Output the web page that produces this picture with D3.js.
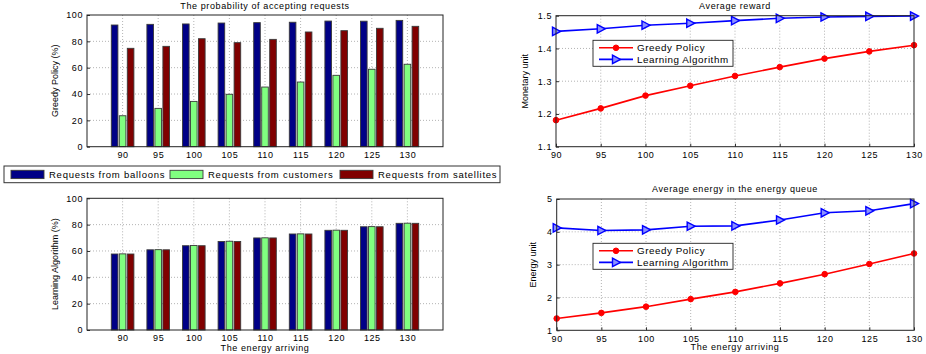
<!DOCTYPE html>
<html>
<head>
<meta charset="utf-8">
<script src="https://cdn.jsdelivr.net/npm/d3@7"></script>
<style>
  body { margin: 0; background: #fff; }
  svg { display: block; font-family: "Liberation Sans", Arial, sans-serif; }
  .tick text { font-size: 9px; letter-spacing: 0.6px; fill: #000; }
</style>
</head>
<body>
<svg id="fig" width="926" height="354"></svg>
<script>
// Data
const energy = [90, 95, 100, 105, 110, 115, 120, 125, 130];

const greedyBalloons = [92.4, 92.9, 93.2, 93.9, 94.2, 94.5, 95.4, 95.3, 95.9];
const greedyCustomers = [23.5, 29.1, 34.4, 39.8, 45.3, 49.1, 54.2, 58.8, 62.6];
const greedySatellites = [74.7, 76.2, 82.0, 79.0, 81.5, 87.1, 88.1, 89.9, 91.4];

const learningBalloons = [57.7, 60.9, 64.0, 67.2, 69.9, 72.9, 75.7, 78.4, 81.0];
const learningCustomers = [57.8, 61.0, 64.2, 67.4, 70.0, 73.0, 75.8, 78.5, 81.1];
const learningSatellites = [57.7, 60.9, 64.0, 67.2, 69.9, 72.9, 75.7, 78.4, 81.0];

const rewardGreedy = [1.181, 1.217, 1.256, 1.286, 1.316, 1.343, 1.369, 1.391, 1.410];
const rewardLearning = [1.452, 1.460, 1.471, 1.477, 1.485, 1.492, 1.496, 1.498, 1.499];

const queueGreedy = [1.36, 1.53, 1.72, 1.95, 2.17, 2.43, 2.71, 3.02, 3.34];
const queueLearning = [4.12, 4.04, 4.06, 4.17, 4.18, 4.36, 4.58, 4.64, 4.86];

const barSeries = ["Requests from balloons", "Requests from customers", "Requests from satellites"];
const lineSeries = ["Greedy Policy", "Learning Algorithm"];

const barColors = ["#000086", "#80ff80", "#800000"];
const lineColors = ["#ff0000", "#0000ff"];

const svg = d3.select("#fig");

// grid, box and axes for one panel
function drawFrame(g, x, y, xTicks, yTicks, yFormat) {
  const [x0, x1] = x.range();
  const [y0, y1] = y.range();

  g.append("g")
    .selectAll("line.vg")
    .data(xTicks.filter(d => x(d) > x0 + 1 && x(d) < x1 - 1))
    .enter()
    .append("line")
    .attr("x1", d => x(d)).attr("x2", d => x(d))
    .attr("y1", y1).attr("y2", y0)
    .attr("stroke", "#a0a0a0")
    .attr("stroke-width", 0.8)
    .attr("stroke-dasharray", "1,2");

  g.append("g")
    .selectAll("line.hg")
    .data(yTicks.filter(d => y(d) > y1 + 1 && y(d) < y0 - 1))
    .enter()
    .append("line")
    .attr("x1", x0).attr("x2", x1)
    .attr("y1", d => y(d)).attr("y2", d => y(d))
    .attr("stroke", "#a0a0a0")
    .attr("stroke-width", 0.8)
    .attr("stroke-dasharray", "1,2");

  const xAxis = g.append("g")
    .attr("transform", `translate(0,${y0})`)
    .call(d3.axisBottom(x).tickValues(xTicks).tickSizeInner(-3).tickSizeOuter(0).tickPadding(5));
  const yAxis = g.append("g")
    .attr("transform", `translate(${x0},0)`)
    .call(d3.axisLeft(y).tickValues(yTicks).tickFormat(yFormat).tickSizeInner(-3).tickSizeOuter(0).tickPadding(4));
  [xAxis, yAxis].forEach(a => {
    a.select(".domain").remove();
    a.selectAll(".tick line").attr("stroke", "#333");
  });
  return { xAxis, yAxis };
}

function drawBox(g, x, y) {
  const [x0, x1] = x.range();
  const [y0, y1] = y.range();
  g.append("rect")
    .attr("x", x0).attr("y", y1)
    .attr("width", x1 - x0).attr("height", y0 - y1)
    .attr("fill", "none")
    .attr("stroke", "#222")
    .attr("stroke-width", 1);
}

function barPanel(top, bottom, series, yLabel) {
  const g = svg.append("g");
  const x = d3.scaleLinear().domain([85, 135]).range([87, 443]);
  const y = d3.scaleLinear().domain([0, 100]).range([bottom, top]);
  drawFrame(g, x, y, energy, d3.range(0, 101, 20), d3.format("d"));

  const barW = 6.6;
  const offsets = [-8, 0, 8];
  series.forEach((values, s) => {
    g.append("g")
      .selectAll("rect")
      .data(values)
      .enter()
      .append("rect")
      .attr("x", (d, i) => x(energy[i]) + offsets[s] - barW / 2)
      .attr("y", d => y(d))
      .attr("width", barW)
      .attr("height", d => y(0) - y(d))
      .attr("fill", barColors[s])
      .attr("stroke", "#3a3a3a")
      .attr("stroke-width", 0.9);
  });
  drawBox(g, x, y);

  g.append("text")
    .attr("transform", `translate(58,${(top + bottom) / 2}) rotate(-90)`)
    .attr("text-anchor", "middle")
    .style("font-size", "9px")
    .text(yLabel);
  return { g, x, y };
}

function linePanel(left, top, bottom, yDomain, yTicks, yFormat, series, yLabel, yLabelX, legendTop) {
  const g = svg.append("g");
  const x = d3.scaleLinear().domain([90, 130]).range([left, 914]);
  const y = d3.scaleLinear().domain(yDomain).range([bottom, top]);
  drawFrame(g, x, y, energy, yTicks, yFormat);

  const line = d3.line().x((d, i) => x(energy[i])).y(d => y(d));
  series.forEach((values, s) => {
    g.append("path")
      .datum(values)
      .attr("d", line)
      .attr("fill", "none")
      .attr("stroke", lineColors[s])
      .attr("stroke-width", 1.6);
    const marks = g.append("g")
      .selectAll("g")
      .data(values)
      .enter()
      .append("g")
      .attr("transform", (d, i) => `translate(${x(energy[i])},${y(d)})`);
    drawMarker(marks, s);
  });
  drawBox(g, x, y);

  g.append("text")
    .attr("transform", `translate(${yLabelX},${(top + bottom) / 2}) rotate(-90)`)
    .attr("text-anchor", "middle")
    .style("font-size", "9px")
    .text(yLabel);

  // legend
  const lg = g.append("g").attr("transform", `translate(593,${legendTop})`);
  lg.append("rect")
    .attr("width", 140).attr("height", 26)
    .attr("fill", "#fff")
    .attr("stroke", "#222")
    .attr("stroke-width", 0.9);
  lineSeries.forEach((name, s) => {
    const yy = 7.5 + s * 11.6;
    lg.append("line")
      .attr("x1", 6).attr("x2", 40)
      .attr("y1", yy).attr("y2", yy)
      .attr("stroke", lineColors[s])
      .attr("stroke-width", 1.6);
    drawMarker(lg.append("g").attr("transform", `translate(23,${yy})`), s);
    lg.append("text")
      .attr("x", 44).attr("y", yy + 3.4)
      .style("font-size", "9.8px")
      .style("letter-spacing", "0.55px")
      .text(name);
  });
  return { g, x, y };
}

function drawMarker(sel, s) {
  if (s === 0) {
    sel.append("circle")
      .attr("r", 2.8)
      .attr("fill", lineColors[0])
      .attr("stroke", lineColors[0]);
  } else {
    sel.append("path")
      .attr("d", "M-3.5,-4.2L4.5,0L-3.5,4.2Z")
      .attr("fill", "#8a90ff")
      .attr("stroke", lineColors[1])
      .attr("stroke-width", 1.4);
  }
}

// Left column: bar charts
barPanel(15, 146.7, [greedyBalloons, greedyCustomers, greedySatellites], "Greedy Policy (%)");
barPanel(198.3, 330, [learningBalloons, learningCustomers, learningSatellites], "Learning Algorithm (%)");

const titleStyle = sel => sel.style("font-size", "9px").style("letter-spacing", "0.6px");

svg.append("text")
  .attr("x", 265).attr("y", 9)
  .attr("text-anchor", "middle")
  .call(titleStyle)
  .text("The probability of accepting requests");

svg.append("text")
  .attr("x", 265).attr("y", 350.5)
  .attr("text-anchor", "middle")
  .call(titleStyle)
  .text("The energy arriving");

// Bar legend
const barLegend = svg.append("g").attr("transform", "translate(4,166)");
barLegend.append("rect")
  .attr("width", 496).attr("height", 16.7)
  .attr("fill", "#fff")
  .attr("stroke", "#333")
  .attr("stroke-width", 1);
const legendX = [7, 166, 336];
barSeries.forEach((name, s) => {
  barLegend.append("rect")
    .attr("x", legendX[s]).attr("y", 4.3)
    .attr("width", 33).attr("height", 8.3)
    .attr("fill", barColors[s])
    .attr("stroke", "#3a3a3a")
    .attr("stroke-width", 0.9);
  barLegend.append("text")
    .attr("x", legendX[s] + 38).attr("y", 11.9)
    .style("font-size", "9.5px")
    .style("letter-spacing", "0.75px")
    .text(name);
});

// Right column: line charts
linePanel(556, 15.7, 146.7, [1.1, 1.5], d3.range(1.1, 1.51, 0.1), d3.format(".1f"),
  [rewardGreedy, rewardLearning], "Monetary unit", 528, 40.3);
linePanel(556.7, 199, 330.3, [1, 5], [1, 2, 3, 4, 5], d3.format("d"),
  [queueGreedy, queueLearning], "Energy unit", 536, 243.3);

svg.append("text")
  .attr("x", 735).attr("y", 8.5)
  .attr("text-anchor", "middle")
  .call(titleStyle)
  .text("Average reward");

svg.append("text")
  .attr("x", 735).attr("y", 191.5)
  .attr("text-anchor", "middle")
  .call(titleStyle)
  .text("Average energy in the energy queue");

svg.append("text")
  .attr("x", 735).attr("y", 350)
  .attr("text-anchor", "middle")
  .call(titleStyle)
  .text("The energy arriving");
</script>
</body>
</html>
